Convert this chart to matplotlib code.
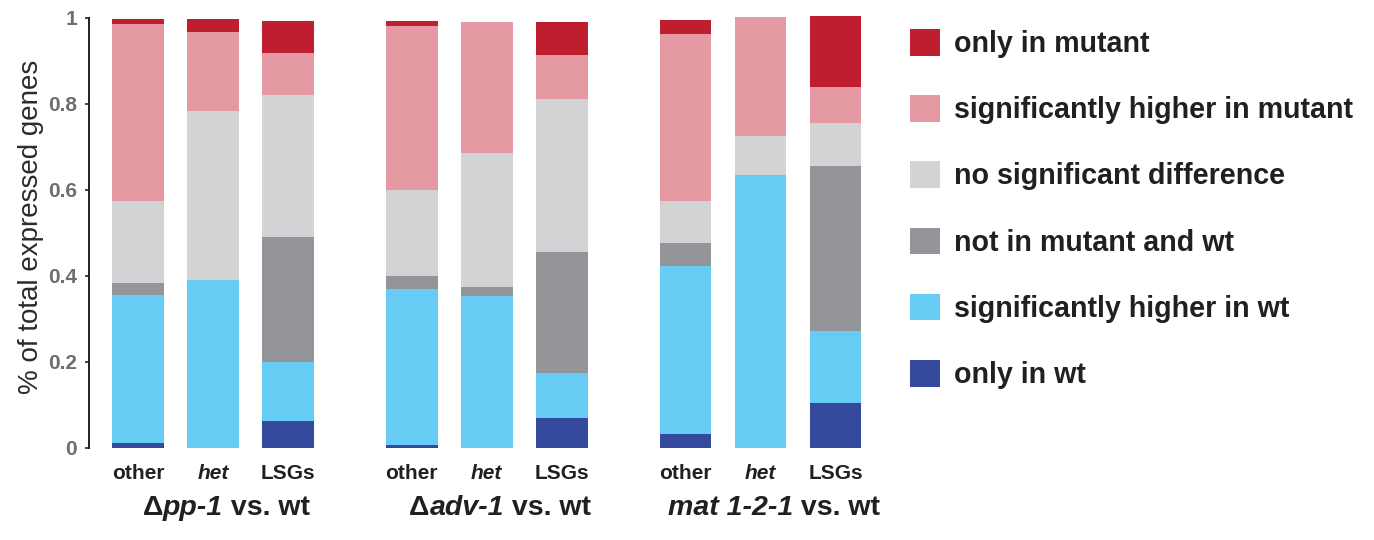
import matplotlib
matplotlib.use('Agg')
import matplotlib.pyplot as plt
from matplotlib.patches import Patch

plt.rcParams['font.family'] = ['Liberation Sans', 'DejaVu Sans']

# ---------------- data ----------------
categories = ["other", "het", "LSGs"]
group_prefix = ["\u0394", "\u0394", ""]
group_names = ["pp-1", "adv-1", "mat 1-2-1"]
group_suffix = " vs. wt"

series_labels = ["only in wt", "significantly higher in wt", "not in mutant and wt",
                 "no significant difference", "significantly higher in mutant", "only in mutant"]
# order of bars: (pp-1: other, het, LSGs), (adv-1: ...), (mat 1-2-1: ...)
only_in_wt     = [0.011, 0.000, 0.062, 0.006, 0.000, 0.070, 0.031, 0.000, 0.104]
higher_in_wt   = [0.343, 0.389, 0.137, 0.362, 0.353, 0.103, 0.391, 0.634, 0.168]
not_in_either  = [0.029, 0.000, 0.291, 0.032, 0.020, 0.281, 0.054, 0.000, 0.382]
no_difference  = [0.191, 0.395, 0.330, 0.200, 0.312, 0.356, 0.097, 0.090, 0.102]
higher_in_mut  = [0.412, 0.183, 0.097, 0.381, 0.304, 0.104, 0.389, 0.277, 0.083]
only_in_mut    = [0.012, 0.029, 0.076, 0.012, 0.000, 0.076, 0.033, 0.000, 0.164]

series = [only_in_wt, higher_in_wt, not_in_either, no_difference, higher_in_mut, only_in_mut]
colors = ["#34489C", "#66CCF3", "#939598", "#D1D3D4", "#E59AA3", "#BE1E2D"]

ytick_vals = [0, 0.2, 0.4, 0.6, 0.8, 1]
ytick_labels = ["0", "0.2", "0.4", "0.6", "0.8", "1"]

# ---------------- figure ----------------
W, H = 1374, 540
fig = plt.figure(figsize=(W / 100, H / 100), dpi=100)
ax = fig.add_axes([89 / W, (H - 447.7) / H, (870 - 89) / W, 1.02 * 430 / H])

group_pitch = 3.65
xs = [g * group_pitch + i for g in range(len(group_names)) for i in range(len(categories))]
bar_w = 0.69

bottom = [0.0] * len(xs)
for vals, col in zip(series, colors):
    ax.bar(xs, vals, width=bar_w, bottom=bottom, color=col, linewidth=0)
    bottom = [b + v for b, v in zip(bottom, vals)]

ax.set_xlim(-0.653, -0.653 + (870 - 89) / 75)
ax.set_ylim(0, 1.02)

for s in ["top", "right", "bottom"]:
    ax.spines[s].set_visible(False)
ax.spines["left"].set_bounds(0, 1)
ax.spines["left"].set_color("#231F20")
ax.spines["left"].set_linewidth(1.4)

ax.set_yticks(ytick_vals)
ax.set_yticklabels(ytick_labels)
ax.tick_params(axis="y", length=3, width=1.2, color="#231F20", pad=5.5,
               labelsize=15, labelcolor="#6D6E71")
for t in ax.get_yticklabels():
    t.set_fontweight("bold")

ax.set_xticks(xs)
ax.set_xticklabels(categories * len(group_names))
ax.tick_params(axis="x", length=0, pad=12, labelsize=15, labelcolor="#231F20")
for t in ax.get_xticklabels():
    t.set_fontweight("bold")
    if t.get_text() == "het":
        t.set_fontstyle("italic")

ax.set_ylabel("% of total expressed genes", fontsize=20, color="#2B2B2B")
ax.yaxis.set_label_coords(-0.058, 0.503)

# ---------------- group labels (mixed styles) ----------------
fig.canvas.draw()
renderer = fig.canvas.get_renderer()
base_y = (H - 515) / H
for g in range(len(group_names)):
    pieces = [(group_prefix[g], "normal"), (group_names[g], "italic"), (group_suffix, "normal")]
    texts = []
    for s, style in pieces:
        if not s:
            continue
        t = fig.text(0, base_y, s, fontsize=20.5, fontweight="bold", fontstyle=style,
                     color="#231F20", ha="left", va="baseline")
        texts.append(t)
    widths = [t.get_window_extent(renderer).width for t in texts]
    total = sum(widths)
    cx_data = xs[g * 3 + 1] + 0.18
    cx_px = ax.transData.transform((cx_data, 0))[0]
    start = cx_px - total / 2
    for t, w in zip(texts, widths):
        t.set_x(start / W)
        start += w

# ---------------- legend ----------------
handles = [Patch(facecolor=c, edgecolor="none") for c in colors][::-1]
labels = series_labels[::-1]
leg = fig.legend(handles, labels, loc="upper left", bbox_to_anchor=(910 / W, (H - 29) / H),
                 frameon=False, borderpad=0, borderaxespad=0, handlelength=1.05,
                 handleheight=1.05, handletextpad=0.49, labelspacing=1.30,
                 prop=dict(weight="bold", size=20.6))
for t in leg.get_texts():
    t.set_color("#231F20")

fig.savefig("out.png", dpi=100)
